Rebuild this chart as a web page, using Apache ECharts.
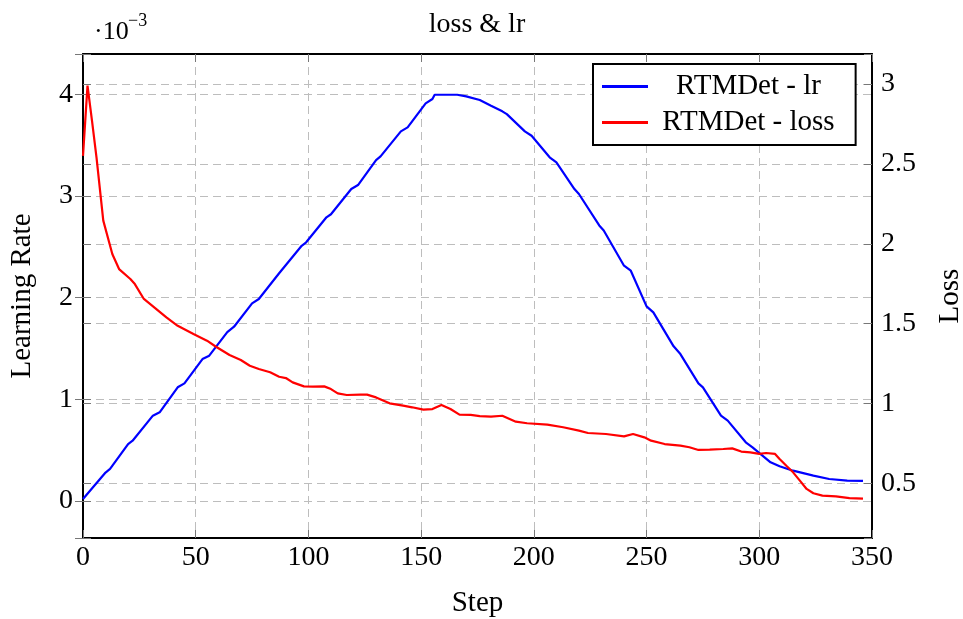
<!DOCTYPE html>
<html>
<head>
  <meta charset="utf-8">
  <title>loss &amp; lr</title>
  <script src="https://cdn.jsdelivr.net/npm/echarts@6/dist/echarts.min.js"></script>
  <style>body { margin: 0; background: #fff; }</style>
</head>
<body>
<div id="main" style="width: 963px; height: 619px"></div>
<script type="text/javascript">
// learning rate, values in units of 10^-3
var lrSteps = [0, 10, 12, 20, 22, 31, 34, 42, 45, 53, 56, 64, 67, 75, 78, 87, 97, 99, 108, 110,
  119, 122, 130, 132, 141, 144, 152, 155, 156, 166, 170, 176, 181, 186, 188, 196, 199, 207, 210, 218,
  220, 229, 231, 240, 243, 250, 253, 262, 265, 273, 275, 283, 286, 294, 297, 305, 309, 315, 324, 331,
  339, 346];
var lrValues = [0.02, 0.28, 0.315, 0.56, 0.593, 0.839, 0.872, 1.118, 1.157, 1.396, 1.429, 1.66, 1.714, 1.944, 1.986, 2.24, 2.51, 2.544, 2.79, 2.82,
  3.068, 3.107, 3.353, 3.389, 3.635, 3.674, 3.91, 3.953, 3.995, 3.995, 3.979, 3.943, 3.887, 3.832, 3.805, 3.635, 3.592, 3.38, 3.33, 3.068,
  3.019, 2.71, 2.66, 2.314, 2.265, 1.914, 1.855, 1.521, 1.445, 1.157, 1.118, 0.839, 0.79, 0.577, 0.528, 0.38, 0.341, 0.298, 0.249, 0.216,
  0.2, 0.197];

// loss
var lossSteps = [0, 2, 4, 6, 9, 13, 16, 21, 23, 27, 32, 37, 42, 49, 55, 59, 65, 70, 74, 78,
  83, 87, 90, 93, 98, 102, 107, 110, 113, 117, 123, 126, 130, 136, 142, 146, 151, 155, 159, 163,
  167, 172, 176, 181, 186, 192, 197, 206, 213, 220, 224, 232, 240, 244, 249, 252, 258, 265, 269, 273,
  278, 284, 288, 292, 296, 300, 303, 307, 309, 312, 315, 318, 321, 324, 328, 334, 340, 346];
var lossValues = [2.55, 2.99, 2.77, 2.54, 2.145, 1.936, 1.842, 1.78, 1.748, 1.655, 1.598, 1.54, 1.487, 1.436, 1.394, 1.356, 1.304, 1.273, 1.237, 1.217,
  1.196, 1.168, 1.16, 1.133, 1.108, 1.106, 1.108, 1.091, 1.064, 1.054, 1.056, 1.056, 1.039, 1.002, 0.987, 0.977, 0.962, 0.966, 0.991, 0.966,
  0.931, 0.929, 0.922, 0.918, 0.924, 0.887, 0.877, 0.868, 0.852, 0.831, 0.816, 0.81, 0.795, 0.81, 0.789, 0.768, 0.747, 0.737, 0.727, 0.71,
  0.712, 0.716, 0.72, 0.70, 0.695, 0.685, 0.691, 0.685, 0.653, 0.611, 0.57, 0.518, 0.466, 0.439, 0.424, 0.42, 0.409, 0.405];

var lrTicks = [0, 1, 2, 3, 4];
var lossTicks = [0.5, 1, 1.5, 2, 2.5, 3];

var font = 'Liberation Serif';
var gridColor = '#bdbdbd';

function pairs(xs, ys) {
  var out = [];
  for (var i = 0; i < xs.length; i++) {
    out.push([xs[i], ys[i]]);
  }
  return out;
}

function tickFormatter(ticks) {
  return function (v) {
    for (var i = 0; i < ticks.length; i++) {
      if (Math.abs(ticks[i] - v) < 1e-6) return String(ticks[i]);
    }
    return '';
  };
}

var splitStyle = { show: true, lineStyle: { color: gridColor, type: [8, 5], width: 1 } };
var tickStyle = { show: true, inside: true, length: 8, lineStyle: { color: '#777' } };
var frame = { show: true, onZero: false, lineStyle: { color: '#000', width: 2 } };

var myChart = echarts.init(document.getElementById('main'));
myChart.setOption({
  animation: false,
  textStyle: { fontFamily: font },
  title: {
    text: 'loss & lr',
    left: 472,
    top: 6,
    textAlign: 'center',
    textStyle: { fontFamily: font, fontSize: 28, fontWeight: 'normal', color: '#000' }
  },
  legend: {
    orient: 'vertical',
    left: 593,
    top: 64,
    padding: [8, 21, 8, 9],
    itemGap: 7,
    itemWidth: 46,
    itemHeight: 3,
    itemTextGap: 8,
    icon: 'rect',
    borderColor: '#000',
    borderWidth: 2,
    backgroundColor: '#fff',
    formatter: function (name) { return '{c|' + name + '}'; },
    textStyle: {
      fontFamily: font, fontSize: 29, color: '#000',
      rich: { c: { width: 191, align: 'center', fontSize: 29, fontFamily: font, color: '#000' } }
    }
  },
  grid: { left: 83, right: 91, top: 54, bottom: 81, outerBoundsMode: 'none', containLabel: false },
  xAxis: [{
    type: 'value', position: 'bottom', min: 0, max: 350, interval: 50,
    name: 'Step', nameLocation: 'middle', nameGap: 51,
    nameTextStyle: { fontFamily: font, fontSize: 29, color: '#000' },
    axisLine: frame,
    axisTick: tickStyle,
    axisLabel: { fontFamily: font, fontSize: 28, color: '#000', margin: 6 },
    splitLine: splitStyle
  }, {
    type: 'value', position: 'top', min: 0, max: 350, interval: 50,
    axisLine: frame,
    axisTick: tickStyle,
    axisLabel: { show: false },
    splitLine: { show: false }
  }],
  yAxis: [{
    type: 'value', position: 'left', min: -0.364, max: 4.396, splitNumber: 5,
    name: 'Learning Rate', nameLocation: 'middle', nameRotate: 90, nameGap: 46,
    nameTextStyle: { fontFamily: font, fontSize: 29, color: '#000' },
    axisLine: frame,
    axisTick: tickStyle,
    axisLabel: { fontFamily: font, fontSize: 28, color: '#000', margin: 10, formatter: tickFormatter(lrTicks) },
    splitLine: splitStyle
  }, {
    type: 'value', position: 'right', min: 0.159, max: 3.188, splitNumber: 6,
    name: 'Loss', nameLocation: 'middle', nameRotate: 90, nameGap: 64,
    nameTextStyle: { fontFamily: font, fontSize: 29, color: '#000' },
    axisLine: frame,
    axisTick: tickStyle,
    axisLabel: { fontFamily: font, fontSize: 28, color: '#000', margin: 9, formatter: tickFormatter(lossTicks) },
    splitLine: splitStyle
  }, {
    type: 'value', position: 'right', min: -0.364, max: 4.396, splitNumber: 5,
    axisLine: { show: false },
    axisTick: tickStyle,
    axisLabel: { show: false },
    splitLine: { show: false }
  }, {
    type: 'value', position: 'left', min: 0.159, max: 3.188, splitNumber: 6,
    axisLine: { show: false },
    axisTick: tickStyle,
    axisLabel: { show: false },
    splitLine: { show: false }
  }],
  graphic: [
    { type: 'text', left: 94, top: 19, style: { text: '·10', font: '26px "Liberation Serif"', fill: '#000' } },
    { type: 'text', left: 128, top: 12, style: { text: '−3', font: '18px "Liberation Serif"', fill: '#000' } }
  ],
  series: [{
    name: 'RTMDet - lr',
    type: 'line',
    xAxisIndex: 0,
    yAxisIndex: 0,
    symbol: 'none',
    data: pairs(lrSteps, lrValues),
    lineStyle: { color: '#0000ff', width: 2.2 },
    itemStyle: { color: '#0000ff' }
  }, {
    name: 'RTMDet - loss',
    type: 'line',
    xAxisIndex: 0,
    yAxisIndex: 1,
    symbol: 'none',
    data: pairs(lossSteps, lossValues),
    lineStyle: { color: '#ff0000', width: 2.2 },
    itemStyle: { color: '#ff0000' }
  }]
});
</script>
</body>
</html>
